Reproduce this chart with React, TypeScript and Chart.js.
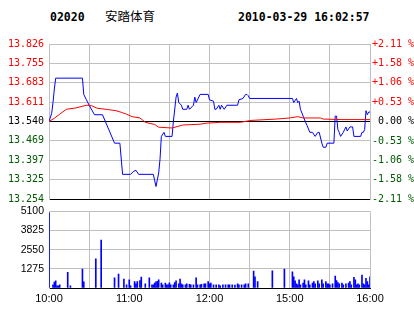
import React, { useEffect, useRef } from 'react';
import { Chart, registerables } from 'chart.js';
Chart.register(...registerables);

const stockCode = '02020';
const stockName = '安踏体育';
const timestamp = '2010-03-29 16:02:57';
const prevClose = 13.54;

const priceTicks = [13.254, 13.325, 13.397, 13.469, 13.54, 13.611, 13.683, 13.755, 13.826];
const pctTicks = [-2.11, -1.58, -1.06, -0.53, 0, 0.53, 1.06, 1.58, 2.11];
const pctLabels = ['-2.11 %', '-1.58 %', '-1.06 %', '-0.53 %', ' 0.00 %', '+0.53 %', '+1.06 %', '+1.58 %', '+2.11 %'];
const volTicks = [0, 1275, 2550, 3825, 5100];
const gridMinutes = [0, 30, 60, 90, 120, 150, 180, 210, 240];
const timeTicks = [0, 60, 120, 180, 240];
const timeLabels = ['10:00', '11:00', '12:00', '15:00', '16:00'];

const priceMinutes = [0, 2, 3, 4, 5, 25, 26, 28, 30, 34, 40, 49, 53, 55, 61, 63, 65, 67, 78, 80, 82, 83, 84, 86, 87, 92, 93, 95, 96, 97, 99, 100, 103, 104, 105, 108, 109, 110, 113, 119, 120, 123, 124, 125, 127, 128, 129, 131, 133, 141, 142, 145, 147, 148, 149, 150, 182, 183, 185, 186, 187, 188, 190, 192, 193, 195, 197, 199, 201, 202, 204, 205, 207, 208, 213, 214, 215, 216, 217, 218, 220, 222, 223, 225, 227, 228, 233, 234, 235, 236, 237, 238, 239, 240];
const priceValues = [13.54, 13.57, 13.61, 13.66, 13.70, 13.70, 13.64, 13.62, 13.60, 13.565, 13.565, 13.46, 13.46, 13.345, 13.345, 13.355, 13.36, 13.345, 13.345, 13.30, 13.35, 13.40, 13.485, 13.50, 13.485, 13.485, 13.54, 13.63, 13.645, 13.61, 13.60, 13.585, 13.585, 13.60, 13.585, 13.60, 13.63, 13.61, 13.64, 13.64, 13.62, 13.615, 13.585, 13.585, 13.60, 13.585, 13.60, 13.585, 13.60, 13.60, 13.62, 13.625, 13.64, 13.64, 13.635, 13.625, 13.625, 13.61, 13.625, 13.61, 13.615, 13.585, 13.56, 13.535, 13.525, 13.50, 13.50, 13.485, 13.50, 13.50, 13.46, 13.445, 13.445, 13.46, 13.46, 13.56, 13.56, 13.51, 13.50, 13.485, 13.50, 13.52, 13.505, 13.52, 13.52, 13.485, 13.485, 13.50, 13.50, 13.51, 13.58, 13.565, 13.575, 13.575];

const avgMinutes = [0, 4, 8, 13, 20, 28, 32, 36, 44, 50, 54, 58, 62, 68, 70, 72, 79, 82, 92, 100, 113, 118, 128, 143, 151, 170, 180, 186, 190, 203, 205, 219, 240];
const avgValues = [13.54, 13.552, 13.567, 13.585, 13.59, 13.60, 13.598, 13.589, 13.584, 13.58, 13.574, 13.567, 13.558, 13.553, 13.545, 13.537, 13.529, 13.519, 13.516, 13.527, 13.53, 13.534, 13.537, 13.537, 13.544, 13.549, 13.553, 13.558, 13.553, 13.553, 13.549, 13.547, 13.547];

const volMinutes = [0, 3, 4, 5, 6, 7, 8, 14, 16, 25, 26, 35, 39, 49, 52, 56, 58, 60, 61, 64, 65, 66, 68, 69, 72, 75, 77, 78, 79, 80, 81, 82, 84, 85, 87, 88, 89, 90, 91, 93, 94, 95, 97, 98, 99, 100, 102, 103, 105, 106, 108, 110, 111, 113, 114, 116, 117, 119, 120, 121, 123, 125, 127, 128, 130, 132, 134, 135, 137, 139, 141, 142, 144, 146, 147, 149, 153, 154, 156, 167, 176, 182, 183, 184, 185, 186, 187, 188, 190, 191, 192, 194, 195, 197, 198, 199, 201, 202, 204, 205, 207, 208, 209, 210, 212, 214, 215, 216, 217, 219, 220, 222, 224, 225, 226, 228, 229, 230, 231, 232, 234, 235, 236, 237, 238, 239, 240];
const volValues = [5000, 215, 390, 470, 150, 150, 215, 1050, 150, 1250, 410, 1940, 3180, 670, 925, 600, 215, 540, 150, 430, 280, 430, 495, 730, 280, 670, 215, 215, 320, 410, 450, 540, 320, 215, 320, 215, 215, 345, 215, 215, 365, 470, 280, 600, 280, 215, 215, 280, 240, 215, 215, 670, 215, 215, 240, 280, 280, 430, 280, 320, 215, 215, 215, 150, 215, 215, 215, 215, 215, 190, 280, 215, 215, 215, 280, 280, 1120, 750, 430, 1140, 1250, 1075, 750, 470, 280, 215, 540, 215, 320, 540, 215, 470, 215, 320, 430, 280, 470, 280, 540, 280, 430, 280, 280, 215, 280, 795, 495, 365, 280, 320, 215, 280, 320, 430, 215, 710, 540, 215, 280, 215, 860, 280, 215, 645, 430, 215, 750];

const GRID = '#c0c0c0';
const UP = '#ff0000';
const DOWN = '#005a00';
const monoFont = { family: '"DejaVu Sans Mono", monospace', size: 10 };
const sansFont = { family: '"Liberation Sans", Arial, sans-serif', size: 11 };

function colorFor(v: number, ref: number) {
  if (Math.abs(v - ref) < 1e-9) return '#000000';
  return v > ref ? UP : DOWN;
}

export default function App() {
  const priceRef = useRef<HTMLCanvasElement>(null);
  const volRef = useRef<HTMLCanvasElement>(null);

  useEffect(() => {
    const priceChart = new Chart(priceRef.current!, {
      type: 'line',
      data: {
        datasets: [
          {
            data: avgMinutes.map((m, i) => ({ x: m, y: avgValues[i] })),
            borderColor: '#ff0000',
            borderWidth: 1,
            pointRadius: 0,
            tension: 0,
            yAxisID: 'y',
          },
          {
            data: priceMinutes.map((m, i) => ({ x: m, y: priceValues[i] })),
            borderColor: '#0000ff',
            borderWidth: 1,
            pointRadius: 0,
            tension: 0,
            yAxisID: 'y',
          },
        ],
      },
      options: {
        animation: false,
        responsive: false,
        events: [],
        layout: { padding: { top: 14, bottom: 7, left: 0, right: 0 } },
        plugins: { legend: { display: false }, tooltip: { enabled: false } },
        scales: {
          x: {
            type: 'linear',
            min: 0,
            max: 240,
            afterBuildTicks: (s: any) => { s.ticks = gridMinutes.map((v) => ({ value: v })); },
            afterFit: (s: any) => { s.height = 0; },
            ticks: { display: false },
            grid: { color: GRID, drawTicks: false },
            border: { color: '#000000' },
          },
          y: {
            position: 'left',
            min: priceTicks[0],
            max: priceTicks[priceTicks.length - 1],
            afterBuildTicks: (s: any) => { s.ticks = priceTicks.map((v) => ({ value: v })); },
            afterFit: (s: any) => { s.width = 49; },
            ticks: {
              font: monoFont,
              padding: 5,
              color: (ctx: any) => colorFor(ctx.tick.value, prevClose),
              callback: (v: any) => Number(v).toFixed(3),
            },
            grid: {
              drawTicks: false,
              color: (ctx: any) =>
                ctx.tick && (Math.abs(ctx.tick.value - prevClose) < 1e-9 || ctx.tick.value === priceTicks[0]) ? '#000000' : GRID,
            },
            border: { color: GRID },
          },
          y2: {
            position: 'right',
            min: pctTicks[0],
            max: pctTicks[pctTicks.length - 1],
            afterBuildTicks: (s: any) => { s.ticks = pctTicks.map((v) => ({ value: v })); },
            afterFit: (s: any) => { s.width = 44; },
            ticks: {
              font: monoFont,
              padding: 2,
              color: (ctx: any) => colorFor(ctx.tick.value, 0),
              callback: (v: any) => {
                const i = pctTicks.indexOf(Number(v));
                return i >= 0 ? pctLabels[i] : '';
              },
            },
            grid: { drawOnChartArea: false, drawTicks: false },
            border: { color: GRID },
          },
        },
      },
    } as any);

    const volChart = new Chart(volRef.current!, {
      type: 'bar',
      data: {
        datasets: [
          {
            data: volMinutes.map((m, i) => ({ x: m, y: volValues[i] })),
            backgroundColor: '#0000ff',
            borderWidth: 0,
            barThickness: 1,
          },
        ],
      },
      options: {
        animation: false,
        responsive: false,
        events: [],
        layout: { padding: { top: 9, bottom: 0, left: 0, right: 44 } },
        plugins: { legend: { display: false }, tooltip: { enabled: false } },
        scales: {
          x: {
            type: 'linear',
            min: 0,
            max: 240,
            offset: false,
            afterBuildTicks: (s: any) => { s.ticks = gridMinutes.map((v) => ({ value: v })); },
            afterFit: (s: any) => { s.height = 26; },
            ticks: {
              autoSkip: false,
              maxRotation: 0,
              font: sansFont,
              color: '#000000',
              padding: 4,
              callback: (v: any) => {
                const i = timeTicks.indexOf(Number(v));
                return i >= 0 ? timeLabels[i] : '';
              },
            },
            grid: { color: GRID, drawTicks: false, offset: false },
            border: { color: '#000000' },
          },
          y: {
            min: volTicks[0],
            max: volTicks[volTicks.length - 1],
            afterBuildTicks: (s: any) => { s.ticks = volTicks.map((v) => ({ value: v })); },
            afterFit: (s: any) => { s.width = 49; },
            ticks: {
              font: { family: '"Liberation Sans", Arial, sans-serif', size: 10.5 },
              color: '#000000',
              padding: 5,
              callback: (v: any) => (Number(v) === 0 ? '' : String(v)),
            },
            grid: {
              drawTicks: false,
              color: (ctx: any) => (ctx.tick && ctx.tick.value === 0 ? '#000000' : GRID),
            },
            border: { color: GRID },
          },
        },
      },
    } as any);

    return () => {
      priceChart.destroy();
      volChart.destroy();
    };
  }, []);

  const headMono: React.CSSProperties = {
    position: 'absolute',
    fontFamily: '"DejaVu Sans Mono", monospace',
    fontWeight: 'bold',
    fontSize: '11.5px',
    lineHeight: '12px',
    top: 11,
    color: '#000',
    whiteSpace: 'pre',
  };

  return (
    <div style={{ position: 'absolute', left: 0, top: 0, width: 414, height: 314, background: '#fff', overflow: 'hidden' }}>
      <div style={{ ...headMono, left: 50 }}>{stockCode}</div>
      <div
        style={{
          position: 'absolute',
          left: 105,
          top: 9,
          fontFamily: '"Noto Sans CJK SC", sans-serif',
          fontSize: '12.5px',
          lineHeight: '13px',
          color: '#000',
        }}
      >
        {stockName}
      </div>
      <div style={{ ...headMono, left: 238 }}>{timestamp}</div>
      <canvas
        ref={priceRef}
        width={414}
        height={180}
        style={{ position: 'absolute', left: 0, top: 30, width: 414, height: 180 }}
      />
      <canvas
        ref={volRef}
        width={414}
        height={114}
        style={{ position: 'absolute', left: 0, top: 200, width: 414, height: 114 }}
      />
    </div>
  );
}
